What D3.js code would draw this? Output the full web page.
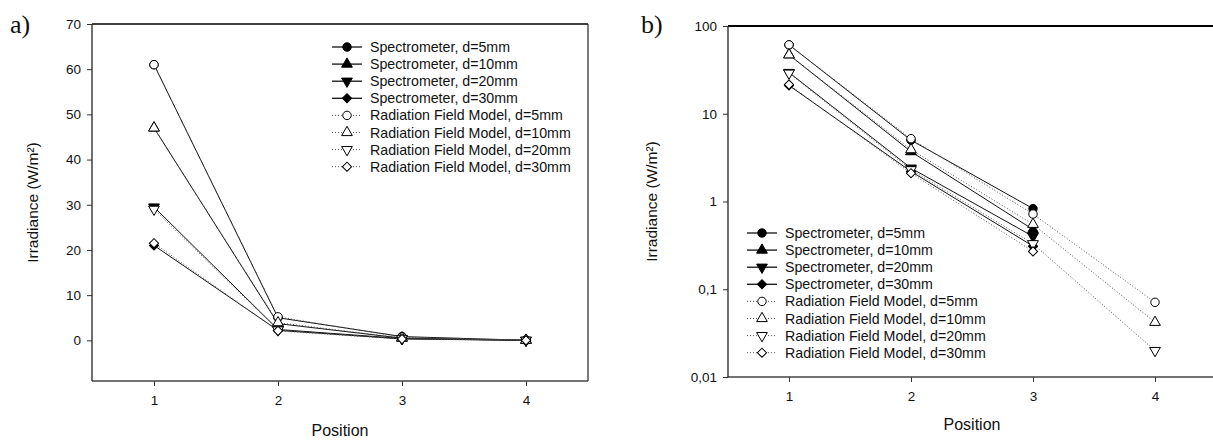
<!DOCTYPE html>
<html>
<head>
<meta charset="utf-8">
<script src="https://cdn.jsdelivr.net/npm/d3@7"></script>
<style>
  body { margin: 0; background: #fff; }
  text { font-family: "Liberation Sans", Arial, sans-serif; fill: #111; }
  .panel-label { font-family: "Liberation Serif", "Times New Roman", serif; font-size: 26px; }
</style>
</head>
<body>
<svg id="chart" width="1213" height="440"></svg>
<script>
// positions along the x axis
const positions = [1, 2, 3, 4];
const distances = ['d=5mm', 'd=10mm', 'd=20mm', 'd=30mm'];

// spectrometer measurements (W/m²), position 4 not measured -> 0
const spec5  = [61,   5.0, 0.83, 0];
const spec10 = [47,   3.7, 0.48, 0];
const spec20 = [29.5, 2.4, 0.40, 0];
const spec30 = [21,   2.2, 0.31, 0];

// radiation field model (W/m²)
const model5  = [61,   5.2, 0.72, 0.071];
const model10 = [47,   3.9, 0.55, 0.042];
const model20 = [29,   2.3, 0.33, 0.020];
const model30 = [21.5, 2.1, 0.27, 0.008];

// tick values / labels
const linTicks = [0, 10, 20, 30, 40, 50, 60, 70];
const logTicks = [0.01, 0.1, 1, 10, 100];
const logTickLabels = ['0,01', '0,1', '1', '10', '100'];

const symbols = ['circle', 'triangle', 'triangleDown', 'diamond'];

const series = [
    ...[spec5, spec10, spec20, spec30].map((v, i) => ({ name: 'Spectrometer, ' + distances[i], values: v, sym: symbols[i], filled: true })),
    ...[model5, model10, model20, model30].map((v, i) => ({ name: 'Radiation Field Model, ' + distances[i], values: v, sym: symbols[i], filled: false }))
];

const svg = d3.select('#chart');

function symbolPath(sym) {
    if (sym === 'circle') return d3.symbol(d3.symbolCircle, 56)();
    if (sym === 'diamond') return d3.symbol(d3.symbolSquare, 42)();
    return d3.symbol(d3.symbolTriangle, 50)();
}
function symbolRotate(sym) {
    if (sym === 'triangleDown') return 180;
    if (sym === 'diamond') return 45;
    return 0;
}

function drawPanel(cfg) {
    const g = svg.append('g');
    const w = cfg.right - cfg.left, h = cfg.bottom - cfg.top;

    const x = d3.scaleLinear().domain([0.5, 4.5]).range([cfg.left, cfg.xEnd]);
    const y = cfg.log
        ? d3.scaleLog().domain([0.01, 100]).range([cfg.bottom, cfg.top])
        : d3.scaleLinear().domain([-9, 70]).range([cfg.bottom, cfg.top]);

    const ok = v => v != null && (!cfg.log || v >= 0.01);

    // frame
    g.append('line').attr('x1', cfg.left).attr('x2', cfg.right).attr('y1', cfg.top).attr('y2', cfg.top)
        .attr('stroke', '#000').attr('stroke-width', cfg.log ? 2 : 1.3);
    if (!cfg.log) {
        g.append('line').attr('x1', cfg.right).attr('x2', cfg.right).attr('y1', cfg.top).attr('y2', cfg.bottom)
            .attr('stroke', '#333').attr('stroke-width', 1.3);
    }

    // axes
    const xAxis = d3.axisBottom(x).tickValues(positions).tickSize(5).tickSizeOuter(0).tickPadding(9).tickFormat(d3.format('d'));
    const yAxis = d3.axisLeft(y).tickValues(cfg.log ? logTicks : linTicks).tickSize(5).tickSizeOuter(0).tickPadding(6)
        .tickFormat(cfg.log ? (d, i) => logTickLabels[i] : d3.format('d'));

    const xg = g.append('g').attr('transform', `translate(0,${cfg.bottom})`).call(xAxis);
    const yg = g.append('g').attr('transform', `translate(${cfg.left},0)`).call(yAxis);
    [xg, yg].forEach(a => {
        a.select('.domain').remove();
        a.selectAll('line').attr('stroke', '#333');
        a.selectAll('text').attr('font-size', 13.5).attr('font-family', '"Liberation Sans", Arial, sans-serif').attr('fill', '#111');
    });
    g.append('line').attr('x1', cfg.left).attr('x2', cfg.right).attr('y1', cfg.bottom).attr('y2', cfg.bottom)
        .attr('stroke', '#444').attr('stroke-width', 1.3);
    g.append('line').attr('x1', cfg.left).attr('x2', cfg.left).attr('y1', cfg.top).attr('y2', cfg.bottom)
        .attr('stroke', '#222').attr('stroke-width', 1.3);

    // titles
    g.append('text').attr('x', cfg.xTitleX).attr('y', cfg.xTitleY).attr('text-anchor', 'middle')
        .attr('font-size', 16).text('Position');
    g.append('text').attr('transform', `translate(${cfg.yTitleX},${(cfg.top + cfg.bottom) / 2}) rotate(-90)`)
        .attr('text-anchor', 'middle').attr('font-size', 15.5).text('Irradiance (W/m²)');
    g.append('text').attr('class', 'panel-label').attr('x', cfg.labelX).attr('y', 33).text(cfg.label);

    // clip
    const clipId = 'clip' + cfg.label.charAt(0);
    svg.append('clipPath').attr('id', clipId).append('rect')
        .attr('x', cfg.left).attr('y', cfg.top).attr('width', w).attr('height', h);
    const marks = g.append('g').attr('clip-path', `url(#${clipId})`);

    const line = d3.line()
        .defined(d => ok(d[1]))
        .x(d => x(d[0])).y(d => y(d[1]));

    // lines: spectrometer solid, model dotted
    series.forEach(s => {
        const pts = positions.map((p, i) => [p, s.values[i]]);
        marks.append('path').attr('d', line(pts)).attr('fill', 'none')
            .attr('stroke', s.filled ? '#111' : '#555')
            .attr('stroke-width', 1)
            .attr('stroke-dasharray', s.filled ? null : '1,2');
    });
    series.forEach(s => {
        positions.forEach((p, i) => {
            const v = s.values[i];
            if (!ok(v)) return;
            marks.append('path').attr('d', symbolPath(s.sym))
                .attr('transform', `translate(${x(p)},${y(v)}) rotate(${symbolRotate(s.sym)})`)
                .attr('fill', s.filled ? '#000' : '#fff')
                .attr('stroke', '#000').attr('stroke-width', 1);
        });
    });

    // legend
    const lg = g.append('g').attr('transform', `translate(${cfg.legendX},${cfg.legendY})`);
    series.forEach((s, i) => {
        const row = lg.append('g').attr('transform', `translate(0,${i * 17.1})`);
        row.append('line').attr('x1', 0).attr('x2', 30).attr('y1', 0).attr('y2', 0)
            .attr('stroke', s.filled ? '#111' : '#555').attr('stroke-width', s.filled ? 1.3 : 1)
            .attr('stroke-dasharray', s.filled ? null : '1,2');
        row.append('path').attr('d', symbolPath(s.sym))
            .attr('transform', `translate(15,0) rotate(${symbolRotate(s.sym)})`)
            .attr('fill', s.filled ? '#000' : '#fff').attr('stroke', '#000');
        row.append('text').attr('x', 38).attr('y', 5).attr('font-size', 14.2).text(s.name);
    });
}

drawPanel({
    label: 'a)', labelX: 10, log: false,
    left: 92, right: 588, xEnd: 588, top: 24, bottom: 381,
    xTitleX: 340, xTitleY: 436, yTitleX: 38,
    legendX: 332, legendY: 47
});

drawPanel({
    label: 'b)', labelX: 641, log: true,
    left: 728, right: 1213, xEnd: 1216, top: 26, bottom: 377,
    xTitleX: 972, xTitleY: 430, yTitleX: 657,
    legendX: 747, legendY: 233
});
</script>
</body>
</html>
